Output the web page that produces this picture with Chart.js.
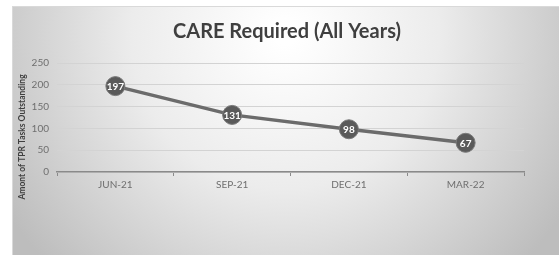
<!DOCTYPE html>
<html>
<head>
<meta charset="utf-8">
<script src="https://cdn.jsdelivr.net/npm/chart.js@4.4.0/dist/chart.umd.min.js"></script>
<style>
  html, body { margin: 0; padding: 0; background: #fff; }
  #wrap { width: 559px; height: 255px; position: relative; }
</style>
</head>
<body>
<div id="wrap"><canvas id="careChart"></canvas></div>
<script>
const quarters = ['JUN-21', 'SEP-21', 'DEC-21', 'MAR-22'];
const outstanding = [197, 131, 98, 67];
const yTicks = [0, 50, 100, 150, 200, 250];
const chartTitle = 'CARE Required (All Years)';
const yTitle = 'Amont of TPR Tasks Outstanding';

// grey radial background framed like the original slide
const frameBg = {
    id: 'frameBg',
    beforeDraw(chart) {
        const c = chart.ctx;
        const x0 = 12, y0 = 6, w = chart.width - x0, h = chart.height - y0;
        const g = c.createRadialGradient(285, 35, 10, 285, 35, 330);
        g.addColorStop(0, '#ffffff');
        g.addColorStop(0.45, '#ececec');
        g.addColorStop(1, '#bdbdbd');
        c.save();
        c.fillStyle = g;
        c.fillRect(x0, y0, w, h);
        c.strokeStyle = '#d9d9d9';
        c.lineWidth = 1;
        c.strokeRect(x0 + 0.5, y0 + 0.5, w, h);
        c.restore();
    }
};

// titles placed where the slide has them (not centred on the plot)
const titles = {
    id: 'titles',
    afterDraw(chart) {
        const c = chart.ctx;
        c.save();
        c.fillStyle = '#3f3f3f';
        c.font = 'bold 20px Lato';
        c.textAlign = 'center';
        c.textBaseline = 'middle';
        c.fillText(chartTitle, 287, 32);
        c.translate(22, 137);
        c.rotate(-Math.PI / 2);
        c.fillStyle = '#404040';
        c.font = 'bold 8.5px Lato';
        c.fillText(yTitle, 0, 0);
        c.restore();
    }
};

// white value labels inside the markers
const valueLabels = {
    id: 'valueLabels',
    afterDatasetsDraw(chart) {
        const c = chart.ctx;
        const meta = chart.getDatasetMeta(0);
        c.save();
        c.fillStyle = '#ffffff';
        c.font = 'bold 10px Lato';
        c.textAlign = 'center';
        c.textBaseline = 'middle';
        meta.data.forEach((pt, i) => {
            c.fillText(String(outstanding[i]), pt.x, pt.y + 1);
        });
        c.restore();
    }
};

const ctx = document.getElementById('careChart').getContext('2d');
new Chart(ctx, {
    type: 'line',
    data: {
        labels: quarters,
        datasets: [{
            data: outstanding,
            borderColor: '#6b6b6b',
            borderWidth: 3.5,
            pointRadius: 9.5,
            pointBackgroundColor: '#5a5a5a',
            pointBorderColor: '#7a7a7a',
            pointBorderWidth: 1,
            tension: 0
        }]
    },
    options: {
        responsive: true,
        maintainAspectRatio: false,
        animation: false,
        layout: { padding: { left: 12, right: 35, top: 63, bottom: 61 } },
        plugins: {
            legend: { display: false },
            tooltip: { enabled: false },
            title: { display: false }
        },
        scales: {
            x: {
                offset: true,
                grid: {
                    offset: true,
                    drawOnChartArea: false,
                    color: '#8a8a8a',
                    tickLength: 4
                },
                border: { color: '#8a8a8a', width: 1.5 },
                ticks: {
                    color: '#6f6f6f',
                    font: { family: 'Lato', size: 10 },
                    padding: 3
                }
            },
            y: {
                min: 0,
                max: 250,
                afterBuildTicks(axis) {
                    axis.ticks = yTicks.map(v => ({ value: v }));
                },
                afterFit(axis) {
                    axis.width = 45;
                },
                grid: { color: '#d3d3d3', lineWidth: 1, drawTicks: false },
                border: { display: false },
                ticks: {
                    color: '#6f6f6f',
                    font: { family: 'Lato', size: 10 },
                    padding: 8
                }
            }
        }
    },
    plugins: [frameBg, titles, valueLabels]
});
</script>
</body>
</html>
